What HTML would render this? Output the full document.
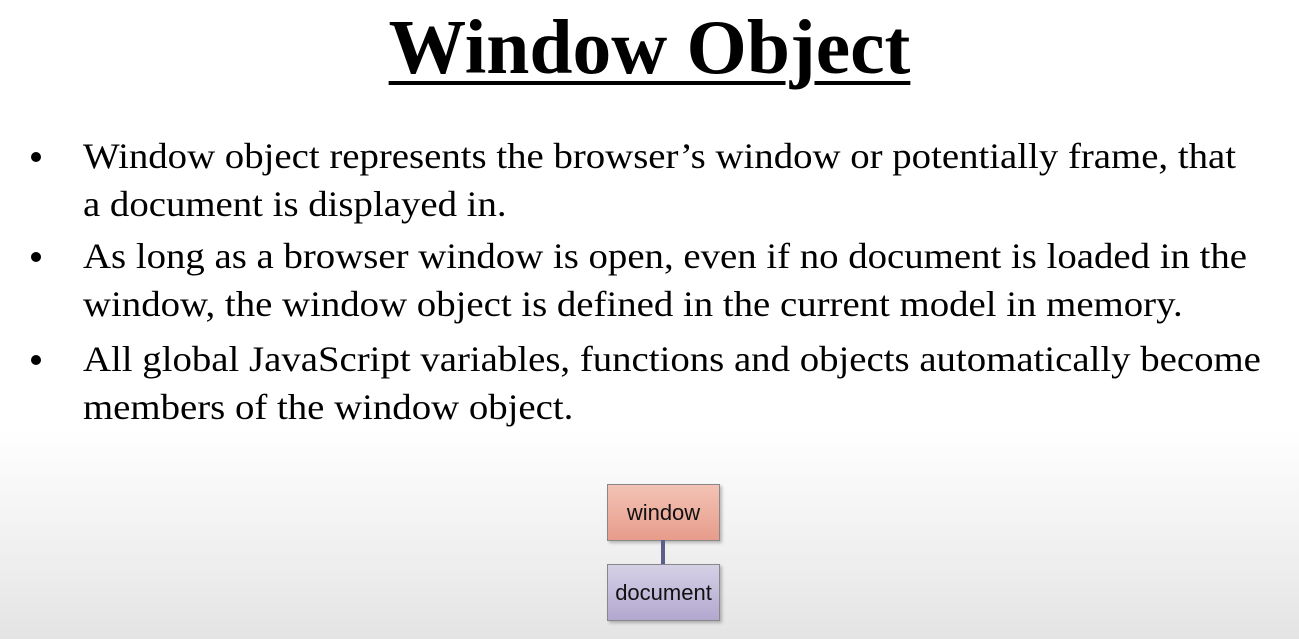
<!DOCTYPE html>
<html><head><style>
body{margin:0;width:1299px;height:639px;overflow:hidden;background:linear-gradient(#fff 0,#fff 430px,#e4e4e4 639px);font-family:"Liberation Serif",serif;position:relative}
h1{position:absolute;left:0;width:1299px;top:2px;margin:0;text-align:center;font-size:77.5px;font-weight:bold;line-height:90px;text-decoration:underline;text-decoration-thickness:4px;text-underline-offset:8px;color:#000}
.b{position:absolute;left:83px;font-size:36px;line-height:48px;color:#000;width:1200px;transform:scaleX(1.078);transform-origin:0 0;white-space:nowrap}
.d{position:absolute;left:31px;width:10px;height:10px;border-radius:50%;background:#000}
.box{position:absolute;left:607px;width:113px;height:57px;border:1px solid #888;box-sizing:border-box;font-family:"Liberation Sans",sans-serif;font-size:22px;text-align:center;line-height:55px;color:#111;box-shadow:2px 2px 3px rgba(0,0,0,.25)}
</style></head><body>
<h1>Window Object</h1>
<div class="b" style="top:132px">Window object represents the browser’s window or potentially frame, that<br>a document is displayed in.</div>
<div class="b" style="top:232px">As long as a browser window is open, even if no document is loaded in the<br>window, the window object is defined in the current model in memory.</div>
<div class="b" style="top:335px">All global JavaScript variables, functions and objects automatically become<br>members of the window object.</div>
<div class="d" style="top:152px"></div>
<div class="d" style="top:252px"></div>
<div class="d" style="top:355px"></div>
<div class="box" style="top:484px;background:linear-gradient(#f3c3b6,#e79c8a)">window</div>
<div style="position:absolute;left:661px;top:540px;width:4px;height:25px;background:#5a5f8c"></div>
<div class="box" style="top:564px;background:linear-gradient(#d6d0e6,#b2a8cf)">document</div>
</body></html>
